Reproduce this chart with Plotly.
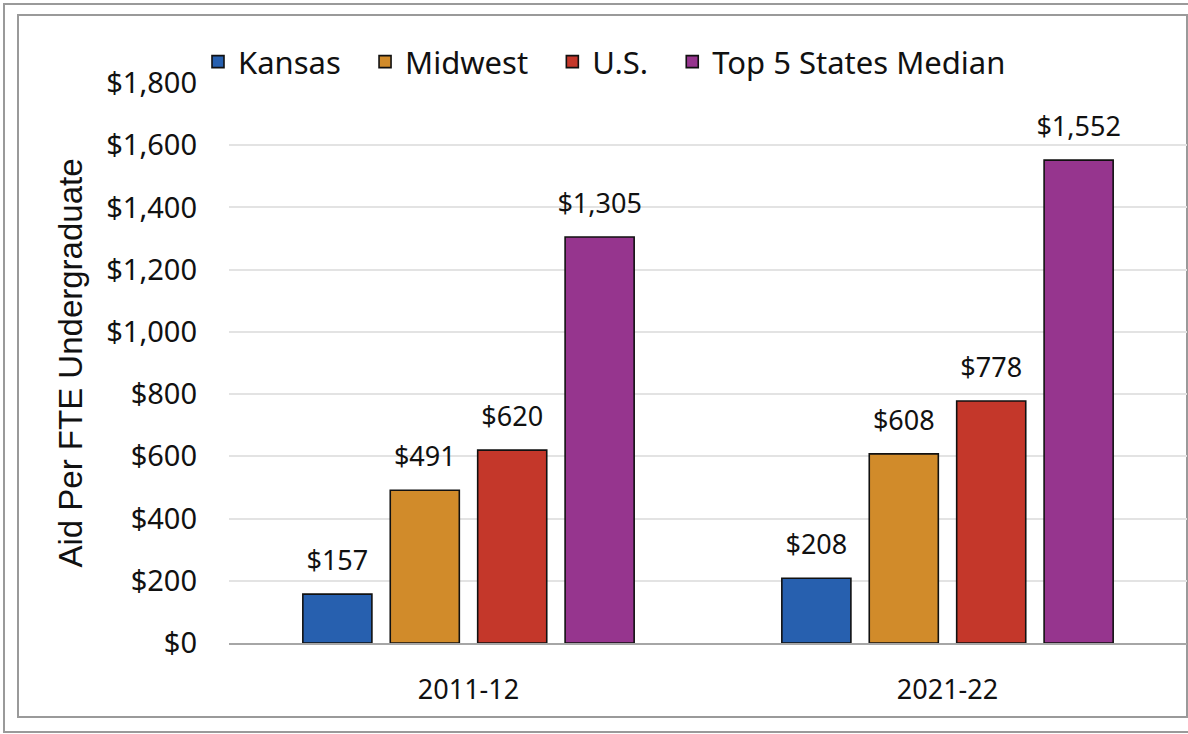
import plotly.graph_objects as go

years = ["2011-12", "2021-22"]
series_names = ["Kansas", "Midwest", "U.S.", "Top 5 States Median"]
kansas = [157, 208]
midwest = [491, 608]
us = [620, 778]
top5 = [1305, 1552]
colors = ["#2760AF", "#D18B2A", "#C4372A", "#96358E"]
y_ticks = [0, 200, 400, 600, 800, 1000, 1200, 1400, 1600, 1800]

values = [kansas, midwest, us, top5]
FONT = "Noto Sans"
PAD = "\u00a0\u00a0\u200a"

fig = go.Figure()
for i, (name, vals, col) in enumerate(zip(series_names, values, colors)):
    pad = PAD if i < len(series_names) - 1 else ""
    fig.add_trace(go.Bar(
        x=years, y=vals, name=name + pad, offsetgroup=str(i),
        marker=dict(color=col, line=dict(color="#111111", width=1.6)),
        hoverinfo="skip",
    ))
for i, (name, vals) in enumerate(zip(series_names, values)):
    fig.add_trace(go.Scatter(
        x=years, y=vals, mode="markers+text", offsetgroup=str(i),
        text=[f"${v:,}" for v in vals], textposition="top center",
        textfont=dict(family=FONT, size=27, color="#111111"),
        marker=dict(size=26, opacity=0), showlegend=False, hoverinfo="skip",
        cliponaxis=False,
    ))

L, R, T, B = 229, 1, 83, 91
W, H = 1188 - L - R, 734 - T - B

def px_x(p):
    return (p - L) / W

def px_y(p):
    return (734 - B - p) / H

shapes = [
    dict(type="rect", xref="paper", yref="paper",
         x0=px_x(4), x1=px_x(1200), y0=px_y(732), y1=px_y(4),
         line=dict(color="#9a9a9a", width=2), layer="below"),
    dict(type="rect", xref="paper", yref="paper",
         x0=px_x(18), x1=px_x(1187), y0=px_y(717), y1=px_y(15),
         line=dict(color="#9a9a9a", width=2), layer="below"),
]

fig.update_layout(
    width=1188, height=734,
    margin=dict(l=L, r=R, t=T, b=B),
    paper_bgcolor="white", plot_bgcolor="white",
    barmode="group", bargap=0.27, bargroupgap=0.21,
    scattermode="group", scattergap=0.27,
    font=dict(family=FONT, color="#111111"),
    shapes=shapes,
    legend=dict(orientation="h", x=px_x(198), xanchor="left",
                y=px_y(62), yanchor="middle",
                font=dict(family=FONT, size=31, color="#111111"),
                itemwidth=30, tracegroupgap=0, bgcolor="rgba(0,0,0,0)"),
    showlegend=True,
)
fig.update_xaxes(
    type="category",
    tickfont=dict(family=FONT, size=27, color="#111111"),
    showline=True, linecolor="#a6a6a6", linewidth=2,
    ticks="", ticklabelstandoff=22, showgrid=False,
)
fig.update_yaxes(
    range=[0, 1800], tickvals=y_ticks, ticktext=[f"${v:,}" for v in y_ticks],
    tickfont=dict(family=FONT, size=29, color="#111111"),
    showgrid=True, gridcolor="#e3e3e3", gridwidth=2,
    zeroline=False, showline=False, ticks="", ticklabelstandoff=31,
    title=dict(text="Aid Per FTE Undergraduate",
               font=dict(family="Liberation Sans", size=33, color="#111111"),
               standoff=13),
)

fig.write_html("out.html", config={"displayModeBar": False},
               post_script="document.body.style.margin='0';")
